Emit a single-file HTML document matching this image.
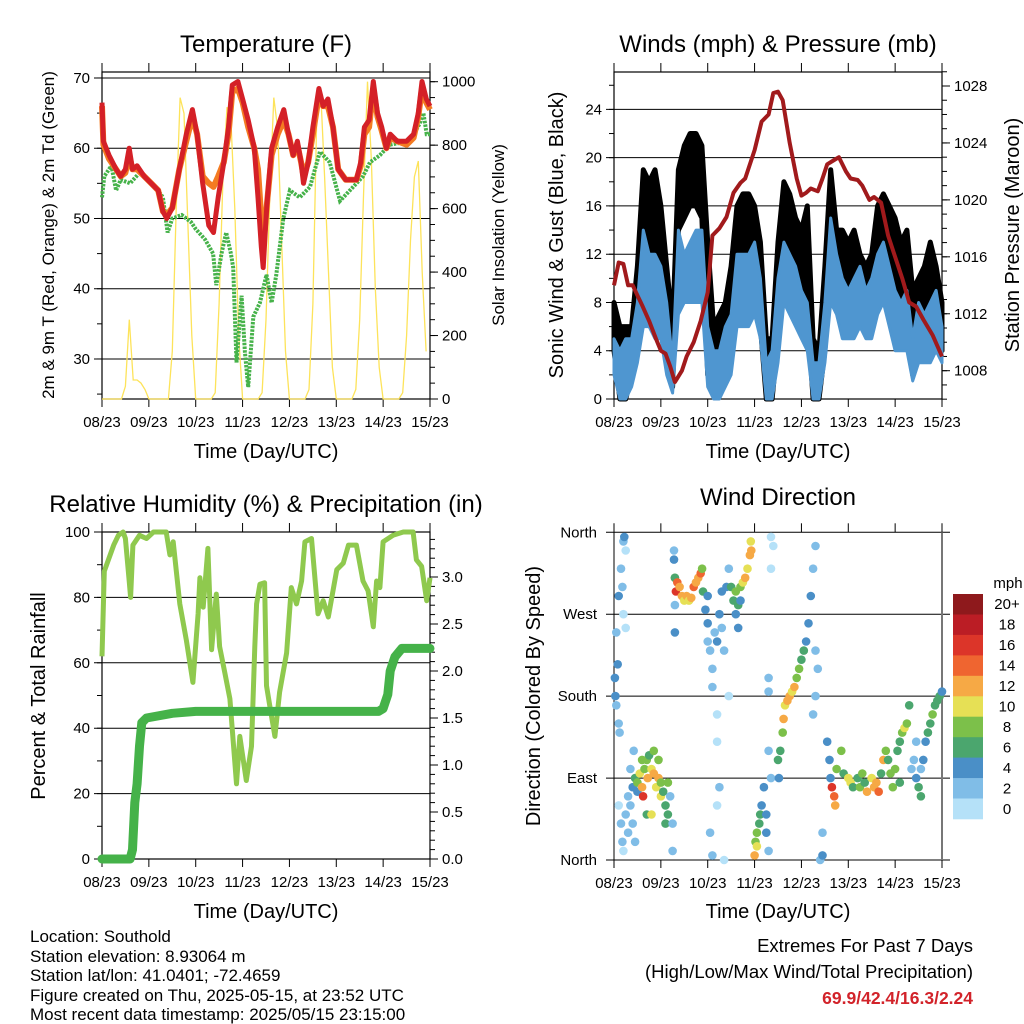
<!DOCTYPE html>
<html><head><meta charset="utf-8"><style>
html,body{margin:0;padding:0;background:#fff;}
svg{display:block;font-family:"Liberation Sans",sans-serif;}
.t{font-size:24px;fill:#000;}
.at{font-size:20px;fill:#000;}
.tk{font-size:15px;fill:#000;}
.dk{font-size:15px;fill:#000;}
.nar{font-family:"Liberation Sans Narrow","Liberation Sans",sans-serif;font-size:17px;}
</style></head><body>
<svg id="fig" width="1024" height="1024" viewBox="0 0 1024 1024" xmlns="http://www.w3.org/2000/svg">
<rect width="1024" height="1024" fill="#fff"/>
<text class="t" x="266" y="52" text-anchor="middle">Temperature (F)</text>
<text class="t" x="778" y="52" text-anchor="middle">Winds (mph) &amp; Pressure (mb)</text>
<text class="t" x="266" y="512" text-anchor="middle">Relative Humidity (%) &amp; Precipitation (in)</text>
<text class="t" x="778" y="505" text-anchor="middle">Wind Direction</text>

<text style="font-size:17px" transform="translate(54,235) rotate(-90)" text-anchor="middle">2m &amp; 9m T (Red, Orange) &amp; 2m Td (Green)</text>
<text style="font-size:17px" transform="translate(504,235) rotate(-90)" text-anchor="middle">Solar Insolation (Yellow)</text>
<text class="at" transform="translate(563,235) rotate(-90)" text-anchor="middle">Sonic Wind &amp; Gust (Blue, Black)</text>
<text class="at" transform="translate(1019,235) rotate(-90)" text-anchor="middle">Station Pressure (Maroon)</text>
<text class="at" transform="translate(45,696) rotate(-90)" text-anchor="middle">Percent &amp; Total Rainfall</text>
<text class="at" transform="translate(540,696) rotate(-90)" text-anchor="middle">Direction (Colored By Speed)</text>

<text class="at" x="266" y="458" text-anchor="middle">Time (Day/UTC)</text>
<text class="at" x="778" y="458" text-anchor="middle">Time (Day/UTC)</text>
<text class="at" x="266" y="918" text-anchor="middle">Time (Day/UTC)</text>
<text class="at" x="778" y="918" text-anchor="middle">Time (Day/UTC)</text>

<g class="nar">
<text x="30" y="942">Location: Southold</text>
<text x="30" y="962">Station elevation: 8.93064 m</text>
<text x="30" y="981">Station lat/lon: 41.0401; -72.4659</text>
<text x="30" y="1001">Figure created on Thu, 2025-05-15, at 23:52 UTC</text>
<text x="30" y="1020">Most recent data timestamp: 2025/05/15 23:15:00</text>
</g>
<g class="nar" style="font-size:18.5px" text-anchor="end">
<text x="973" y="952">Extremes For Past 7 Days</text>
<text x="973" y="978">(High/Low/Max Wind/Total Precipitation)</text>
<text x="973" y="1004" style="font-weight:bold;fill:#d2232a;font-size:17.5px">69.9/42.4/16.3/2.24</text>
</g>
</svg>
<script>
// ---------- data ----------
const dayLabels = ["08/23","09/23","10/23","11/23","12/23","13/23","14/23","15/23"];
const tempTicks = [30,40,50,60,70];
const solarTicks = [0,200,400,600,800,1000];
const windTicks = [0,4,8,12,16,20,24];
const presTicks = [1008,1012,1016,1020,1024,1028];
const rhTicks = [0,20,40,60,80,100];
const rainTicks = ["0.0","0.5","1.0","1.5","2.0","2.5","3.0"];
const dirLabels = ["North","East","South","West","North"];
const speedLabels = ["0","2","4","6","8","10","12","14","16","18","20+"];

const tTime = [0,0.03,0.15,0.3,0.4,0.5,0.58,0.65,0.75,0.9,1.05,1.2,1.3,1.38,1.5,1.65,1.8,1.93,2.03,2.15,2.28,2.38,2.48,2.6,2.7,2.78,2.9,3.0,3.12,3.25,3.33,3.4,3.44,3.52,3.62,3.75,3.88,3.98,4.08,4.17,4.25,4.3,4.4,4.5,4.63,4.72,4.82,4.93,5.04,5.2,5.43,5.52,5.6,5.7,5.79,5.88,5.97,6.07,6.15,6.3,6.5,6.65,6.75,6.83,6.92,7.0];
const tRed = [66.5,61,59,57,56,57,60,57,57.5,56,55,54,51,50,51.5,57,62,65.5,62,55,49,48,53,58,63,69,69.5,67,64,60,53,46,43,52,60,63,65.5,62,59,61,58,55,58,63,68.5,66,67,63,57,55.5,55.5,58,63,64,69.5,65,63,60,62,61,61,62,65,69.5,67,66];
const tOrange = [66,60.5,58.5,57,56,56.5,59,57,57,56,55,54,51,50.5,51.5,57,61,64.5,62,56,55,54.5,56,58,62,68,68.5,66.5,63,60,57,50,46,52,59,62,64,62,59,60.5,58,56,58,62,67.5,66,66,63,57,55.5,55.5,57.5,62,63,68.5,64.5,62.5,60,61.5,61,60.5,61.5,64.5,68.5,66.5,65.5];
const dewTime = [0,0.05,0.2,0.3,0.4,0.6,0.8,1.0,1.2,1.3,1.4,1.5,1.7,1.9,2.0,2.2,2.37,2.44,2.55,2.65,2.75,2.8,2.87,2.98,3.05,3.12,3.23,3.37,3.51,3.62,3.72,3.87,4.01,4.22,4.44,4.65,4.86,5.08,5.36,5.57,5.72,5.93,6.14,6.57,6.78,6.86,6.93,7.0];
const dewVals = [53,56,57.5,54,55.5,55,56.5,55.5,54,53,48,50,50.5,49.5,48.5,47,45,40.5,45,48,45,43,29.5,39,31,26,36,38,42,38,42,50,54,53,54.5,59.5,58,52.5,54.5,56,58,59,60.5,61,63.5,65,62,62];
// solar insolation every 2 hours from 08/23
const solarVals = [0,0,0,0,0,0,40,250,60,60,50,30, 0,0,0,0,0,0,150,600,950,900,550,200, 0,0,0,0,0,20,300,700,920,880,600,200, 0,0,0,0,0,20,250,650,950,850,500,150, 0,0,0,0,0,30,300,900,970,700,400,100, 0,0,0,0,0,30,250,650,1000,750,350,100, 0,0,0,0,0,20,200,500,700,750,400,150];

// winds every 3 hours
const windHi = [5,4,5,5,8,14,12,12,11,8,3,14,12,13,14,14,6,4,4,6,7,12,12,12,13,10,3,4,10,13,12,11,9,8,3,3,8,15,12,10,9,10,11,9,10,12,13,11,9,8,9,5,8,7,8,9,6];
const windLo = [2,0,0,1,3,6,6,5,5,2,0.5,7,8,8,8,8,1,0,0,1,2,6,6,6,7,5,0,0,3,8,7,6,5,4,0,0,3,8,7,5,5,5,6,5,5,7,8,6,4,4,4,1.5,3,3,3,4,3];
const gustHi = [8,6,6,6,11,19,18,19,16,11,6,19,21,22,22,21,13,6,7,8,11,16,17,17,16,13,5,5,13,18,17,15,14,16,5,4,11,19,14,14,13,14,12,11,12,16,17,16,15,13,14,9,10,11,13,11,8];
const gustLo = [4,0,0,2,6,10,12,12,8,4,1,14,15,16,16,15,2,1,2,3,4,10,11,11,10,6,0,0,5,13,12,10,8,7,0,0,4,12,10,9,7,8,7,6,7,11,12,11,7,7,8,2,5,6,6,6,4];
const presTime = [0,0.1,0.2,0.3,0.4,0.5,0.6,0.75,0.9,1.0,1.1,1.2,1.3,1.45,1.55,1.7,1.85,2.0,2.1,2.25,2.4,2.55,2.7,2.8,3.0,3.15,3.3,3.4,3.5,3.6,3.75,3.9,4.0,4.1,4.2,4.35,4.45,4.55,4.7,4.8,4.95,5.05,5.2,5.3,5.45,5.55,5.7,5.85,6.0,6.15,6.3,6.45,6.6,6.8,7.0];
const presVals = [1014,1015.6,1015.5,1014,1014,1013.3,1012.6,1011.5,1010.2,1009.4,1009.2,1008.3,1007.2,1008,1009,1010,1011.5,1013.5,1017.5,1018,1018.8,1020.5,1021.2,1021.5,1023.5,1025.5,1026,1027.5,1027.6,1027,1024,1021.5,1020.3,1020.5,1020.8,1020.6,1021.5,1022.5,1022.8,1023,1022,1021.5,1021.4,1021,1020,1020.2,1019.8,1017.5,1016,1014.5,1012.8,1012.5,1011.6,1010.5,1009];

const rhTime = [0,0.05,0.15,0.25,0.35,0.45,0.5,0.58,0.61,0.66,0.8,0.95,1.1,1.37,1.45,1.52,1.66,1.8,1.94,2.05,2.09,2.16,2.26,2.34,2.44,2.51,2.62,2.73,2.87,2.94,3.08,3.19,3.26,3.3,3.37,3.47,3.51,3.58,3.69,3.79,3.94,4.04,4.15,4.26,4.33,4.47,4.61,4.72,4.83,5.01,5.15,5.26,5.43,5.57,5.68,5.79,5.86,5.93,6.0,6.21,6.43,6.64,6.71,6.82,6.93,7.0];
const rhVals = [62,88,92,96,99,100,98,85,80,96,99,98,100,100,93,97,78,67,54,75,86,77,95,64,81,65,57,49,23,37.5,24,34.5,65,78,84,84.5,53,47,37.5,51,63,83,78,85,97,98,75,79,74,88.5,90.5,96,96,85,82,71,85,83,97,99,100,100,91.5,89.5,79,86];
const rainTime = [0,0.6,0.65,0.7,0.75,0.8,0.85,0.95,1.5,2.0,5.9,6.0,6.1,6.15,6.25,6.4,7.0];
const rainVals = [0,0,0.1,0.6,0.8,1.2,1.45,1.5,1.55,1.57,1.57,1.6,1.75,2.0,2.15,2.24,2.24];

const dirTime = [0.02,0.03,0.05,0.08,0.1,0.12,0.05,0.1,0.15,0.2,0.22,0.25,0.18,0.2,0.25,0.1,0.15,0.18,0.2,0.25,0.3,0.3,0.35,0.35,0.4,0.4,0.45,0.42,
0.45,0.5,0.5,0.55,0.6,0.62,0.65,0.7,0.72,0.75,0.8,0.85,0.85,0.9,0.95,1.0,1.0,1.05,1.1,1.1,1.15,1.2,1.25,1.25,0.7,0.8,0.6,0.95,1.15,
1.28,1.28,1.3,1.3,1.32,1.35,1.4,1.45,1.5,1.55,1.6,1.65,1.7,1.75,1.8,1.85,1.88,1.9,1.3,1.3,
1.95,2.0,2.0,2.05,2.1,2.1,2.0,2.15,2.2,2.25,2.3,2.3,2.35,2.4,2.45,2.45,2.2,2.2,2.25,2.05,2.1,2.2,2.35,
2.5,2.55,2.6,2.65,2.7,2.7,2.75,2.8,2.85,2.9,2.92,2.93,2.6,2.65,
3.0,3.02,3.05,3.1,3.12,3.05,3.15,3.2,3.25,3.25,3.3,3.3,3.35,3.3,3.3,3.35,3.4,3.35,
3.5,3.52,3.55,3.6,3.62,3.65,3.7,3.75,3.8,3.85,3.9,3.95,4.0,4.05,4.1,4.15,4.2,4.25,4.3,4.3,4.35,4.3,4.25,4.4,4.45,4.45,
4.55,4.6,4.62,4.65,4.7,4.72,4.75,4.85,4.9,5.0,5.05,5.1,5.2,5.25,5.3,5.35,5.4,5.5,5.55,5.6,5.65,5.7,5.75,5.8,5.85,5.9,5.95,6.0,6.05,6.1,6.1,
6.15,6.2,6.25,6.3,6.35,6.4,6.45,6.5,6.55,6.6,6.65,6.7,6.75,6.8,6.85,6.9,6.95,7.0,6.45,6.55];
const dirDeg = [200,180,170,215,150,140,250,290,320,350,355,340,300,270,255,60,40,20,10,50,70,30,100,60,40,80,20,120,
90,85,75,95,80,70,100,110,90,115,100,120,95,80,90,85,70,75,60,40,50,70,40,10,50,50,110,110,85,
340,330,310,310,295,305,300,290,285,290,285,288,300,305,310,315,320,295,250,280,
275,260,240,230,210,190,290,250,240,270,295,255,230,300,320,180,160,130,80,30,5,60,0,
300,285,295,280,285,300,305,310,320,335,350,340,270,255,
5,20,30,40,50,15,60,80,30,50,10,120,90,200,185,355,345,320,
110,90,120,140,155,170,175,180,185,190,200,210,220,230,240,260,290,320,345,230,210,180,160,0,5,30,
130,110,90,80,70,60,100,120,95,90,85,80,90,80,95,85,75,90,80,85,75,95,110,120,110,95,80,100,120,130,85,
140,145,150,170,100,110,90,80,70,110,130,140,150,160,170,175,180,185,130,100];
const dirSpeed = [4,4,3,4,3,2,2,4,3,2,4,1,2,1,1,1,2,2,1,2,3,2,3,2,2,4,2,2,
6,8,4,10,12,16,8,8,12,6,10,8,12,10,12,8,10,6,6,6,6,2,2,2,6,10,8,8,8,
2,4,8,6,16,14,12,12,10,12,10,12,14,12,12,14,8,6,4,2,
4,4,2,2,2,2,4,2,4,4,4,2,2,4,2,1,1,1,2,2,2,1,1,
6,6,8,6,4,8,10,12,10,12,10,12,4,4,
12,8,8,6,6,10,4,4,4,4,2,2,2,2,2,1,1,1,
6,4,6,8,12,10,12,12,10,12,8,8,6,6,4,4,4,2,2,2,2,2,2,2,4,2,
4,4,4,16,14,12,8,8,6,10,10,6,6,8,8,6,12,10,12,12,14,6,12,8,6,8,8,8,6,6,6,
8,10,8,6,2,2,4,6,6,4,4,6,6,8,6,6,6,4,2,2];
const speedColors = ["#b5e1f8","#80bde7","#4a8fc7","#4ba66e","#7cc04a","#e6e055","#f6a945","#ef6530","#dc3529","#bb1d25","#8e191c"];

// ---------- drawing ----------
const NS = "http://www.w3.org/2000/svg";
const svg = document.getElementById("fig");
function mk(tag, attrs, parent){ const e=document.createElementNS(NS,tag); for(const k in attrs) e.setAttribute(k,attrs[k]); (parent||svg).appendChild(e); return e; }
function lin(d0,d1,r0,r1){ return v => r0+(v-d0)/(d1-d0)*(r1-r0); }
const X0=102, X1=430, X2=614, X3=942;
const sxL = lin(0,7,X0,X1), sxR = lin(0,7,X2,X3);
const yT = lin(24.3,70.85,399,72), yS = lin(0,1000,399,81.7);
const yW = lin(0,27.1,399,72), yP = lin(1008,1028,370.7,86);
const yRH = lin(0,100,859,532), yRain = lin(0,3,859,577);
const yD = lin(0,360,860,532.3);
function path(xs, ys, sx, sy){ return xs.map((t,i)=>(i?"L":"M")+sx(t).toFixed(1)+","+sy(ys[i]).toFixed(1)).join(""); }
function frame(x0,x1,yt,yb,name){
  const g=mk("g",{});  
  mk("rect",{x:x0,y:yt,width:x1-x0,height:yb-yt,fill:"none",stroke:"#000","stroke-width":1.2},g);
  return g;
}
function xAxis(sx,yt,yb,g){
  dayLabels.forEach((lab,i)=>{
    const x=sx(i);
    mk("line",{x1:x,x2:x,y1:yb,y2:yb+8,stroke:"#000"},g);
    mk("line",{x1:x,x2:x,y1:yt,y2:yt-9,stroke:"#000"},g);
    const t=mk("text",{x:x,y:yb+28,"text-anchor":"middle",class:"dk"},g); t.textContent=lab;
    
    
  });
}
function yAxisL(vals,labs,sy,x0,x1,g,grid){
  vals.forEach((v,i)=>{
    const y=sy(v);
    mk("line",{x1:x0-8,x2:grid?x1:x0,y1:y,y2:y,stroke:"#000","stroke-width":1},g);
    const t=mk("text",{x:x0-12,y:y+5,"text-anchor":"end",class:"tk"},g); t.textContent=labs[i];
    
    
  });
}
function minorL(a,b,step,sy,x0,g){ for(let v=a;v<=b+1e-9;v+=step) mk("line",{x1:x0-5,x2:x0,y1:sy(v),y2:sy(v),stroke:"#000"},g); }
function yAxisR(vals,labs,sy,x1,g){
  vals.forEach((v,i)=>{
    const y=sy(v);
    mk("line",{x1:x1,x2:x1+8,y1:y,y2:y,stroke:"#000"},g);
    const t=mk("text",{x:x1+12,y:y+5,"text-anchor":"start",class:"tk"},g); t.textContent=labs[i];
    
    
  });
}
function minorR(a,b,step,sy,x1,g){ for(let v=a;v<=b+1e-9;v+=step) mk("line",{x1:x1,x2:x1+5,y1:sy(v),y2:sy(v),stroke:"#000"},g); }

// Panel 1: temperature
const g1=frame(X0,X1,72,399,"temperature-panel");
yAxisL(tempTicks,tempTicks.map(String),yT,X0,X1,g1,true);
minorL(25,70,5,yT,X0,g1);
yAxisR(solarTicks,solarTicks.map(String),yS,X1,g1);
minorR(0,1000,50,yS,X1,g1);
xAxis(sxL,72,399,g1);
const solT = solarVals.map((v,i)=>i/12);
let e;
e=mk("path",{d:path(solT,solarVals,sxL,yS),fill:"none",stroke:"#fde35a","stroke-width":1.3},g1);
 
e=mk("path",{d:path(dewTime,dewVals,sxL,yT),fill:"none",stroke:"#46b24a","stroke-width":4,"stroke-dasharray":"2.5 1.2"},g1);
 
e=mk("path",{d:path(tTime,tOrange,sxL,yT),fill:"none",stroke:"#f47b22","stroke-width":6,"stroke-linejoin":"round"},g1);
 
e=mk("path",{d:path(tTime,tRed,sxL,yT),fill:"none",stroke:"#d42027","stroke-width":5,"stroke-linejoin":"round"},g1);
 

// Panel 2: winds
const g2=frame(X2,X3,72,399,"winds-panel");
yAxisL(windTicks,windTicks.map(String),yW,X2,X3,g2,true);
minorL(0,26,2,yW,X2,g2);
yAxisR(presTicks,presTicks.map(String),yP,X3,g2);
minorR(1006,1029,1,yP,X3,g2);
xAxis(sxR,72,399,g2);
const wT = windHi.map((v,i)=>i/8);
function band(hi,lo){ let d=wT.map((t,i)=>(i?"L":"M")+sxR(t).toFixed(1)+","+yW(hi[i]).toFixed(1)).join(""); for(let i=wT.length-1;i>=0;i--) d+="L"+sxR(wT[i]).toFixed(1)+","+yW(lo[i]).toFixed(1); return d+"Z"; }
e=mk("path",{d:band(gustHi,gustLo),fill:"#000",stroke:"#000","stroke-width":5,"stroke-linejoin":"round"},g2);
 
e=mk("path",{d:band(windHi,windLo),fill:"#4f96d0",stroke:"#4f96d0","stroke-width":3,"stroke-linejoin":"round"},g2);
 
e=mk("path",{d:path(presTime,presVals,sxR,yP),fill:"none",stroke:"#a11a1c","stroke-width":4,"stroke-linejoin":"round"},g2);
 

// Panel 3: RH & rain
const g3=frame(X0,X1,532,859,"humidity-panel");
yAxisL(rhTicks,rhTicks.map(String),yRH,X0,X1,g3,true);
minorL(0,100,10,yRH,X0,g3);
yAxisR(rainTicks.map(Number),rainTicks,yRain,X1,g3);
minorR(0,3.4,0.1,yRain,X1,g3);
xAxis(sxL,532,859,g3);
e=mk("path",{d:path(rhTime,rhVals,sxL,yRH),fill:"none",stroke:"#8fc94e","stroke-width":5,"stroke-linejoin":"round"},g3);
 
e=mk("path",{d:path(rainTime,rainVals,sxL,yRain),fill:"none",stroke:"#45b249","stroke-width":9,"stroke-linejoin":"round","stroke-linecap":"round"},g3);
 

// Panel 4: wind direction
const g4=mk("g",{});  
[0,90,180,270,360].forEach((v,i)=>{
  const y=yD(v);
  mk("line",{x1:X2-8,x2:X3+8,y1:y,y2:y,stroke:"#000"},g4);
  const t=mk("text",{x:X2-17,y:y+5,"text-anchor":"end",class:"tk"},g4); t.textContent=dirLabels[i];
  
  
});
mk("line",{x1:X2,x2:X2,y1:yD(360),y2:yD(0),stroke:"#000"},g4);
mk("line",{x1:X3,x2:X3,y1:yD(360),y2:yD(0),stroke:"#777","stroke-width":2},g4);
xAxis(sxR,yD(360),yD(0),g4);
dirTime.forEach((t,i)=>{
  const b=Math.min(10,Math.floor(dirSpeed[i]/2));
  const c=mk("circle",{cx:sxR(t).toFixed(1),cy:yD(dirDeg[i]).toFixed(1),r:4.3,fill:speedColors[b]},g4);
  
  
});
// colorbar
const cb=mk("g",{});  
const cbTop=594, cbH=(819-594)/speedColors.length;
speedColors.forEach((col,i)=>{
  const k=speedColors.length-1-i;
  const r=mk("rect",{x:953,y:(cbTop+i*cbH).toFixed(1),width:30,height:(cbH+0.3).toFixed(1),fill:speedColors[k]},cb);
  
  
  const t=mk("text",{x:1007,y:(cbTop+i*cbH+cbH/2+5).toFixed(1),"text-anchor":"middle",class:"tk",style:"font-size:15px"},cb); t.textContent=speedLabels[k];
  
  
});
const mph=mk("text",{x:1008,y:588,"text-anchor":"middle",class:"tk",style:"font-size:15px"},cb); mph.textContent="mph";


</script>
</body></html>
